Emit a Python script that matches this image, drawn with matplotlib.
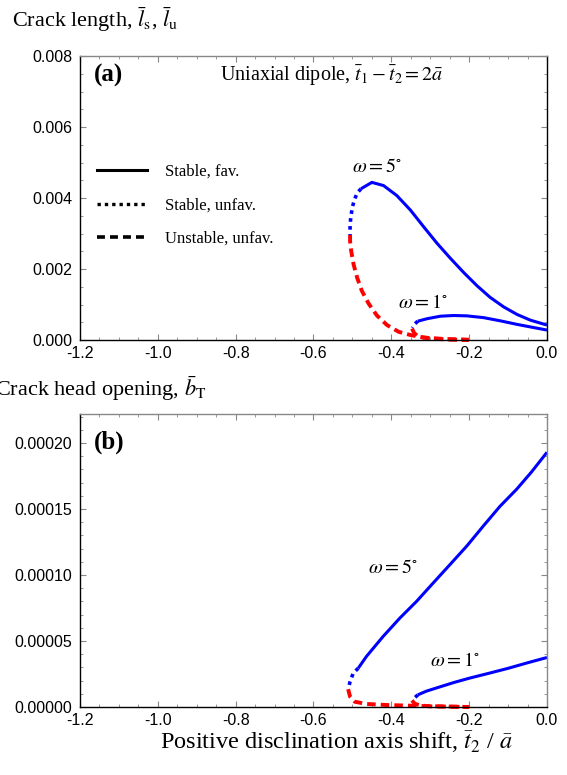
import matplotlib
matplotlib.use('Agg')
import matplotlib.pyplot as plt
from matplotlib.lines import Line2D
from matplotlib.ticker import MultipleLocator, FormatStrFormatter

plt.rcParams['mathtext.fontset'] = 'stix'
plt.rcParams['font.family'] = 'Liberation Sans'

# ---- panel (a): crack length ----
# omega = 5 deg
a5_fav_x = [-0.478, -0.450, -0.420, -0.386, -0.351, -0.317, -0.283, -0.249, -0.214,
            -0.180, -0.146, -0.111, -0.077, -0.043, 0.0]
a5_fav_y = [0.00426, 0.00444, 0.00435, 0.00407, 0.00366, 0.00319, 0.00273, 0.00231,
            0.00190, 0.00153, 0.00120, 0.00093, 0.00072, 0.00056, 0.00042]
a5_unfav_x = [-0.478, -0.487, -0.494, -0.500, -0.504, -0.506, -0.506]
a5_unfav_y = [0.00426, 0.00415, 0.00398, 0.00375, 0.00347, 0.00324, 0.00296]
a5_unst_x = [-0.506, -0.506, -0.503, -0.497, -0.488, -0.476, -0.458, -0.437, -0.411,
             -0.381, -0.351, -0.317, -0.266, -0.201]
a5_unst_y = [0.00296, 0.00278, 0.00250, 0.00213, 0.00176, 0.00139, 0.00102, 0.00069,
             0.00042, 0.00023, 0.00014, 0.00007, 0.00003, 0.00001]
# omega = 1 deg
a1_fav_x = [-0.332, -0.308, -0.274, -0.240, -0.206, -0.163, -0.120, -0.077, -0.034, 0.0]
a1_fav_y = [0.00053, 0.00060, 0.00067, 0.00069, 0.00068, 0.00063, 0.00054, 0.00044,
            0.00035, 0.00028]
a1_unfav_x = [-0.332, -0.340, -0.346]
a1_unfav_y = [0.00053, 0.00045, 0.00034]
a1_unst_x = [-0.347, -0.341, -0.330, -0.300, -0.249, -0.201]
a1_unst_y = [0.00032, 0.00019, 0.00009, 0.00004, 0.00001, 0.0]

# ---- panel (b): crack head opening ----
b5_fav_x = [-0.485, -0.464, -0.421, -0.378, -0.335, -0.292, -0.249, -0.206, -0.164,
            -0.121, -0.078, -0.040, 0.0]
b5_fav_y = [2.94e-5, 3.83e-5, 5.35e-5, 6.74e-5, 8.01e-5, 9.41e-5, 1.08e-4, 1.22e-4,
            1.37e-4, 1.52e-4, 1.65e-4, 1.78e-4, 1.93e-4]
b5_unfav_x = [-0.485, -0.498, -0.506, -0.511]
b5_unfav_y = [2.94e-5, 2.56e-5, 1.92e-5, 1.35e-5]
b5_unst_x = [-0.511, -0.506, -0.494, -0.464, -0.412, -0.326, -0.200]
b5_unst_y = [1.35e-5, 7.8e-6, 4.0e-6, 2.3e-6, 1.5e-6, 8.0e-7, 0.0]
b1_fav_x = [-0.332, -0.310, -0.280, -0.240, -0.200, -0.150, -0.100, -0.050, 0.0]
b1_fav_y = [9.2e-6, 1.2e-5, 1.48e-5, 1.85e-5, 2.18e-5, 2.55e-5, 2.93e-5, 3.35e-5, 3.75e-5]
b1_unfav_x = [-0.332, -0.340, -0.346]
b1_unfav_y = [9.2e-6, 7.0e-6, 5.3e-6]
b1_unst_x = [-0.347, -0.340, -0.326, -0.300, -0.200]
b1_unst_y = [5.0e-6, 2.5e-6, 1.2e-6, 5.0e-7, 0.0]

BLUE = '#0000ff'
RED = '#ff0000'
SERIF = 'Liberation Serif'

solid = dict(color=BLUE, lw=2.2, solid_capstyle='butt')
dotted = dict(color=BLUE, lw=2.6, linestyle=(0, (1, 1.2)))
dashed = dict(color=RED, lw=2.8, linestyle=(0, (2.2, 1.3)), clip_on=False)

fig = plt.figure(figsize=(5.67, 7.75), dpi=100)
W, H = 567.0, 775.0
ax1 = fig.add_axes([80 / W, 1 - 340 / H, 467 / W, (340 - 56) / H])
ax2 = fig.add_axes([80 / W, 1 - 707 / H, 467 / W, (707 - 414) / H])


def style_axes(ax, ymax, ymajor, yminor, fmt):
    ax.set_xlim(-1.2, 0.0)
    ax.set_ylim(0, ymax)
    ax.xaxis.set_major_locator(MultipleLocator(0.2))
    ax.xaxis.set_minor_locator(MultipleLocator(0.05))
    ax.yaxis.set_major_locator(MultipleLocator(ymajor))
    ax.yaxis.set_minor_locator(MultipleLocator(yminor))
    ax.xaxis.set_major_formatter(FormatStrFormatter('%.1f'))
    ax.yaxis.set_major_formatter(FormatStrFormatter(fmt))
    ax.tick_params(which='both', direction='in', top=True, right=True,
                   color='#888888', labelsize=11.5, labelcolor='black')
    ax.tick_params(axis='x', which='major', pad=4.5)
    ax.tick_params(axis='y', which='major', pad=5.5)
    ax.tick_params(which='major', length=4.5, width=0.8)
    ax.tick_params(which='minor', length=2.5, width=0.6)
    ax.spines['left'].set_color('black')
    ax.spines['bottom'].set_color('black')
    ax.spines['top'].set_color('#888888')
    ax.spines['right'].set_color('#888888')
    for s in ax.spines.values():
        s.set_linewidth(1.0)


style_axes(ax1, 0.008, 0.002, 0.0005, '%.3f')
style_axes(ax2, 0.000222, 0.00005, 0.00001, '%.5f')
ax1.spines['right'].set_color('black')

# panel (a)
ax1.plot(a5_fav_x, a5_fav_y, **solid)
ax1.plot(a5_unfav_x, a5_unfav_y, **dotted)
ax1.plot(a5_unst_x, a5_unst_y, **dashed)
ax1.plot(a1_fav_x, a1_fav_y, **solid)
ax1.plot(a1_unfav_x, a1_unfav_y, **dotted)
ax1.plot(a1_unst_x, a1_unst_y, **dashed)

# panel (b)
ax2.plot(b5_fav_x, b5_fav_y, **solid)
ax2.plot(b5_unfav_x, b5_unfav_y, **dotted)
ax2.plot(b5_unst_x, b5_unst_y, **dashed)
ax2.plot(b1_fav_x, b1_fav_y, **solid)
ax2.plot(b1_unfav_x, b1_unfav_y, **dotted)
ax2.plot(b1_unst_x, b1_unst_y, **dashed)

# curve labels
ax1.text(-0.437, 0.00489, r'$\omega = 5^{\circ}$', fontsize=14.5, ha='center', va='center')
ax1.text(-0.319, 0.00106, r'$\omega = 1^{\circ}$', fontsize=14.5, ha='center', va='center')
ax2.text(-0.396, 0.0001057, r'$\omega = 5^{\circ}$', fontsize=14.5, ha='center', va='center')
ax2.text(-0.236, 0.0000355, r'$\omega = 1^{\circ}$', fontsize=14.5, ha='center', va='center')

# panel letters and case description
ax1.text(0.03, 0.93, '(a)', transform=ax1.transAxes, family=SERIF, fontweight='bold',
         fontsize=18, va='center', ha='left')
ax1.text(0.30, 0.93, r'Uniaxial dipole, $\bar{t}_1 - \bar{t}_2 = 2\bar{a}$',
         transform=ax1.transAxes, family=SERIF, fontsize=14.5, va='center', ha='left')
ax2.text(0.03, 0.905, '(b)', transform=ax2.transAxes, family=SERIF, fontweight='bold',
         fontsize=18, va='center', ha='left')

# legend (black samples of the three line types)
handles = [Line2D([], [], color='black', lw=2.2),
           Line2D([], [], color='black', lw=2.4, linestyle=(0, (1, 1.2))),
           Line2D([], [], color='black', lw=2.6, linestyle=(0, (2.2, 1.4)))]
labels = ['Stable, fav.', 'Stable, unfav.', 'Unstable, unfav.']
leg = ax1.legend(handles, labels, loc='upper left', bbox_to_anchor=(0.036, 0.62),
                 frameon=False, prop={'family': SERIF, 'size': 12},
                 handlelength=3.0, handletextpad=1.1, labelspacing=1.05,
                 borderpad=0, borderaxespad=0)

# axis titles
fig.text(12 / W, 1 - 20 / H, r'Crack length, $\bar{l}_{\mathrm{s}}$, $\bar{l}_{\mathrm{u}}$',
         family=SERIF, fontsize=16, va='center', ha='left')
fig.text(-5 / W, 1 - 389 / H, r'Crack head opening, $\bar{b}_{\mathrm{T}}$',
         family=SERIF, fontsize=16, va='center', ha='left')
fig.text(336 / W, 1 - 742 / H, r'Positive disclination axis shift, $\bar{t}_2$ / $\bar{a}$',
         family=SERIF, fontsize=17.5, va='center', ha='center')

fig.savefig('out.png', dpi=100)
